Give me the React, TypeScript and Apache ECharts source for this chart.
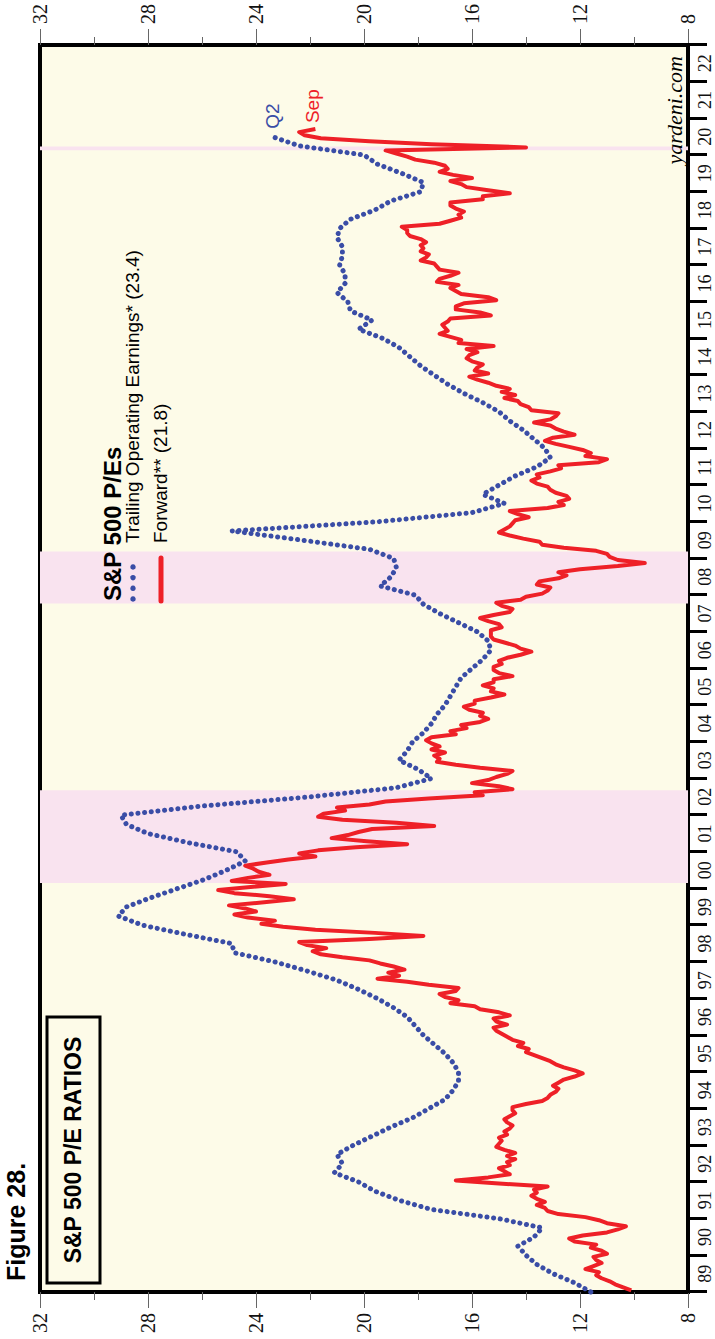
import React, { useEffect, useRef } from "react";
import * as echarts from "echarts";

// Year band labels (1989 .. 2022)
const yearLabels = [
  "89", "90", "91", "92", "93", "94", "95", "96", "97", "98", "99",
  "00", "01", "02", "03", "04", "05", "06", "07", "08", "09", "10",
  "11", "12", "13", "14", "15", "16", "17", "18", "19", "20", "21", "22",
];
const yearMin = 1989;
const yearMax = 2023;

// Trailing operating earnings P/E, quarter-ends from Q4 1988 to Q2 2020
const trailingPE = [
  11.6, 12.2, 13.0, 13.6,
  14.0, 14.3, 13.7, 13.4,
  15.0, 17.5, 18.7, 19.6,
  20.2, 21.1, 20.8, 21.0,
  20.4, 19.7, 19.0, 18.2,
  17.6, 17.0, 16.7, 16.5,
  16.5, 16.7, 17.0, 17.4,
  17.8, 18.1, 18.4, 18.9,
  19.5, 20.2, 21.0, 22.1,
  23.3, 24.8, 24.9, 26.6,
  28.2, 29.1, 28.8, 27.9,
  26.9, 25.9, 25.1, 24.4,
  24.7, 26.5, 28.0, 28.8,
  29.0, 26.0, 22.0, 18.8,
  17.5, 18.0, 18.7, 18.4,
  18.2, 17.8, 17.5, 17.3,
  17.0, 16.8, 16.6, 16.4,
  16.0, 15.6, 15.3, 15.4,
  15.8, 16.5, 17.2, 17.8,
  18.1, 19.4, 19.0, 18.8,
  18.9, 19.8, 22.3, 24.9,
  19.5, 16.0, 14.8, 15.6,
  15.0, 14.4, 13.6, 13.1,
  13.3, 13.7, 14.1, 14.6,
  15.0, 15.6, 16.3, 16.9,
  17.4, 17.9, 18.3, 18.7,
  19.3, 20.2, 19.7, 20.5,
  20.6, 21.0, 20.7, 20.7,
  20.9, 20.8, 20.8, 21.0,
  20.9, 20.5, 19.6, 19.0,
  17.9, 17.8, 18.6, 19.5,
  20.0, 22.4, 23.4,
];

// Forward P/E, monthly from Jan 1989 to Sep 2020
const forwardPE = [
  10.1, 10.4, 10.7, 10.9, 11.2, 11.4, 11.3, 11.8, 11.5, 11.2, 11.4, 11.5,
  11.0, 11.2, 11.6, 11.4, 12.2, 12.4, 11.9, 11.0, 10.6, 10.3, 11.0, 11.3,
  11.8, 12.8, 13.2, 13.3, 13.6, 13.3, 13.6, 13.8, 13.6, 13.7, 13.2, 15.0,
  16.6, 15.4, 14.6, 14.8, 15.0, 14.6, 14.7, 14.4, 14.7, 14.4, 14.8, 15.1,
  15.0, 14.9, 15.0, 14.7, 14.8, 14.6, 14.5, 14.7, 14.8, 14.6, 14.4, 14.5,
  14.5, 14.0, 13.4, 13.2, 13.1, 12.9, 12.8, 13.0, 12.8, 12.6, 12.2, 11.9,
  12.2, 12.6, 12.9, 13.1, 13.4, 13.7, 14.0, 13.9, 14.3, 14.1, 14.5, 14.7,
  14.9, 15.1, 15.2, 14.7, 15.1, 15.2, 14.6, 15.0, 15.7, 15.9, 16.8, 16.5,
  17.0, 17.2, 16.6, 16.5, 17.6, 18.4, 19.5, 18.7, 19.1, 18.5, 18.9, 19.4,
  19.8, 20.8, 21.6, 21.9, 21.4, 22.1, 22.4, 19.8, 17.8, 19.6, 21.8, 23.0,
  23.8, 23.3, 24.3, 24.8, 24.0, 24.4, 25.0, 23.7, 22.6, 23.5, 24.8, 25.4,
  24.2, 22.9, 24.9, 24.3, 23.5, 23.9, 24.1, 24.4, 23.6, 22.8, 21.8, 22.4,
  21.7, 20.3, 18.4, 19.9, 21.2, 20.6, 20.2, 19.7, 17.4, 18.8, 20.8, 21.7,
  21.5, 20.7, 21.0, 19.8, 19.2, 17.6, 15.6, 15.9, 14.5, 15.0, 16.0, 15.4,
  15.1, 14.7, 14.5, 15.7, 16.6, 17.3, 17.2, 17.4, 17.0, 17.5, 17.2, 17.5,
  17.7, 17.5, 16.6, 16.8, 16.2, 16.4, 15.7, 15.4, 15.7, 15.6, 16.1, 16.3,
  15.9, 15.9, 15.3, 14.8, 15.3, 15.2, 15.6, 15.2, 15.2, 14.5, 15.0, 15.2,
  15.2, 14.9, 15.0, 14.7, 14.2, 13.8, 14.2, 14.4, 14.8, 15.2, 15.3, 15.3,
  15.3, 14.9, 15.0, 15.4, 15.7, 15.2, 14.6, 14.5, 14.9, 15.1, 14.2, 14.0,
  13.4, 13.2, 13.1, 13.6, 13.5, 12.8, 12.5, 12.8, 12.0, 10.6, 9.6, 10.6,
  10.9, 11.0, 11.4, 12.6, 13.4, 13.5, 14.1, 14.6, 15.0, 14.8, 14.6, 14.5,
  14.4, 13.9, 14.3, 14.6, 13.2, 12.6, 12.8, 12.4, 12.5, 12.9, 13.1, 13.2,
  13.6, 13.8, 13.5, 13.6, 13.1, 12.7, 12.8, 11.3, 11.0, 11.8, 11.6, 11.9,
  12.4, 12.9, 13.3, 13.0, 12.2, 12.6, 12.9, 13.1, 13.7, 13.1, 12.9, 12.8,
  13.8, 13.9, 14.2, 14.3, 14.8, 14.4, 14.9, 14.6, 15.1, 15.4, 15.8, 16.1,
  15.4, 15.9, 15.8, 15.6, 16.0, 16.2, 16.1, 15.8, 16.2, 15.2, 16.5, 16.4,
  16.8, 17.2, 16.9, 17.0, 17.1, 16.9, 16.8, 15.3, 15.7, 16.6, 16.6, 16.3,
  15.1, 15.4, 16.4, 16.6, 16.8, 16.5, 17.3, 17.2, 16.8, 16.5, 17.2, 17.3,
  17.4, 17.9, 17.7, 17.6, 17.9, 17.8, 17.9, 17.7, 17.9, 18.3, 18.4, 18.4,
  18.6, 17.2, 16.8, 16.4, 16.5, 16.3, 16.6, 16.8, 16.8, 15.6, 15.6, 14.6,
  15.4, 16.2, 16.4, 16.8, 16.0, 16.7, 17.2, 16.9, 17.0, 17.4, 18.1, 18.4,
  18.8, 19.2, 14.0, 17.5, 19.8, 21.6, 22.2, 22.4, 21.8,
];

// Bear markets (shaded), decimal years
const bearMarkets = [
  [2000.15, 2002.68],
  [2007.77, 2009.19],
  [2020.13, 2020.23],
];

const valueMin = 8;
const valueMax = 32;
const valueStep = 4;

const BLUE = "#3A4DA6";
const RED = "#EE2027";
const CREAM = "#FDFBE8";
const PINK = "#F9E3EF";
const SANS = '"Liberation Sans", Arial, sans-serif';
const SERIF = '"Liberation Serif", "Times New Roman", serif';

export default function App() {
  const ref = useRef<HTMLDivElement>(null);

  useEffect(() => {
    if (!ref.current) return;
    const chart = echarts.init(ref.current, undefined, { renderer: "svg" });

    const trailingData = trailingPE.map((v, i) => [yearMin + i * 0.25, v]);
    const forwardData = forwardPE.map((v, i) => [yearMin + (i + 0.5) / 12, v]);

    const valueAxis = (position: "left" | "right") => ({
      type: "value",
      min: valueMin,
      max: valueMax,
      interval: valueStep,
      position,
      axisLine: { show: true, lineStyle: { color: "#000", width: 4 } },
      axisTick: { show: true, length: 16, lineStyle: { color: "#666", width: 1 } },
      minorTick: { show: true, splitNumber: 2, length: 8, lineStyle: { color: "#666", width: 1 } },
      axisLabel: { margin: 21, fontSize: 20, fontFamily: SERIF, color: "#111" },
      splitLine: { show: false },
      minorSplitLine: { show: false },
    });

    chart.setOption({
      animation: false,
      backgroundColor: "#fff",
      grid: {
        left: 47,
        right: 45,
        top: 40,
        bottom: 27,
        show: true,
        backgroundColor: CREAM,
        borderColor: "#000",
        borderWidth: 4,
      },
      xAxis: [
        { type: "value", min: yearMin, max: yearMax, show: false },
        {
          type: "category",
          data: yearLabels,
          position: "bottom",
          boundaryGap: true,
          axisLine: { show: true, lineStyle: { color: "#000", width: 4 } },
          axisTick: { show: true, interval: 0, length: 19, lineStyle: { color: "#000", width: 3 } },
          axisLabel: { interval: 0, margin: 8, fontSize: 18, fontFamily: SERIF, color: "#111" },
          splitLine: { show: false },
        },
      ],
      yAxis: [valueAxis("left"), valueAxis("right")],
      series: [
        {
          type: "line",
          xAxisIndex: 0,
          yAxisIndex: 0,
          data: [],
          z: 1,
          silent: true,
          markArea: {
            silent: true,
            itemStyle: { color: PINK },
            data: bearMarkets.map(([a, b]) => [{ xAxis: a }, { xAxis: b }]),
          },
        },
        {
          name: "Forward",
          type: "line",
          xAxisIndex: 0,
          yAxisIndex: 0,
          data: forwardData,
          showSymbol: false,
          symbol: "none",
          z: 3,
          lineStyle: { color: RED, width: 4, join: "round" },
          endLabel: {
            show: true,
            formatter: "Sep",
            color: RED,
            fontSize: 19,
            fontFamily: SANS,
            distance: 6,
            offset: [0, -3],
          },
        },
        {
          name: "Trailing",
          type: "line",
          xAxisIndex: 0,
          yAxisIndex: 0,
          data: trailingData,
          showSymbol: false,
          symbol: "none",
          z: 4,
          lineStyle: { color: BLUE, width: 5, type: [0.1, 6.6], cap: "round", join: "round" },
          endLabel: {
            show: true,
            formatter: "Q2",
            color: BLUE,
            fontSize: 19,
            fontFamily: SANS,
            distance: 8,
          },
        },
      ],
      graphic: [
        {
          type: "text",
          x: 58,
          y: 16,
          style: { text: "Figure 28.", font: `bold 25px ${SANS}`, fill: "#000", verticalAlign: "middle", align: "left" },
        },
        {
          type: "rect",
          shape: { x: 56, y: 47, width: 266, height: 53 },
          style: { fill: CREAM, stroke: "#000", lineWidth: 3 },
          z: 10,
        },
        {
          type: "text",
          x: 189,
          y: 73,
          z: 11,
          style: { text: "S&P 500 P/E RATIOS", font: `bold 23px ${SANS}`, fill: "#000", align: "center", verticalAlign: "middle" },
        },
        {
          type: "text",
          x: 1283,
          y: 674,
          z: 11,
          style: { text: "yardeni.com", font: `italic 22px ${SERIF}`, fill: "#000", align: "right", verticalAlign: "middle" },
        },
        {
          type: "text",
          x: 738,
          y: 112,
          z: 11,
          style: { text: "S&P 500 P/Es", font: `bold 24px ${SANS}`, fill: "#000", align: "left", verticalAlign: "middle" },
        },
        { type: "circle", z: 11, shape: { cx: 740, cy: 133, r: 2.7 }, style: { fill: BLUE } },
        { type: "circle", z: 11, shape: { cx: 750.7, cy: 133, r: 2.7 }, style: { fill: BLUE } },
        { type: "circle", z: 11, shape: { cx: 761.3, cy: 133, r: 2.7 }, style: { fill: BLUE } },
        { type: "circle", z: 11, shape: { cx: 772, cy: 133, r: 2.7 }, style: { fill: BLUE } },
        {
          type: "text",
          x: 796,
          y: 132,
          z: 11,
          style: { text: "Trailing Operating Earnings* (23.4)", font: `19px ${SANS}`, fill: "#000", align: "left", verticalAlign: "middle" },
        },
        {
          type: "line",
          z: 11,
          shape: { x1: 738, y1: 161, x2: 781, y2: 161 },
          style: { stroke: RED, lineWidth: 5, lineCap: "round" },
        },
        {
          type: "text",
          x: 796,
          y: 160,
          z: 11,
          style: { text: "Forward** (21.8)", font: `19px ${SANS}`, fill: "#000", align: "left", verticalAlign: "middle" },
        },
      ],
    });

    return () => chart.dispose();
  }, []);

  return (
    <div
      style={{
        position: "fixed",
        left: 0,
        top: 0,
        width: 715,
        height: 1339,
        overflow: "hidden",
        background: "#fff",
      }}
    >
      <div
        ref={ref}
        style={{
          position: "absolute",
          left: 0,
          top: 0,
          width: 1339,
          height: 715,
          transformOrigin: "0 0",
          transform: "translateY(1339px) rotate(-90deg)",
        }}
      />
    </div>
  );
}
